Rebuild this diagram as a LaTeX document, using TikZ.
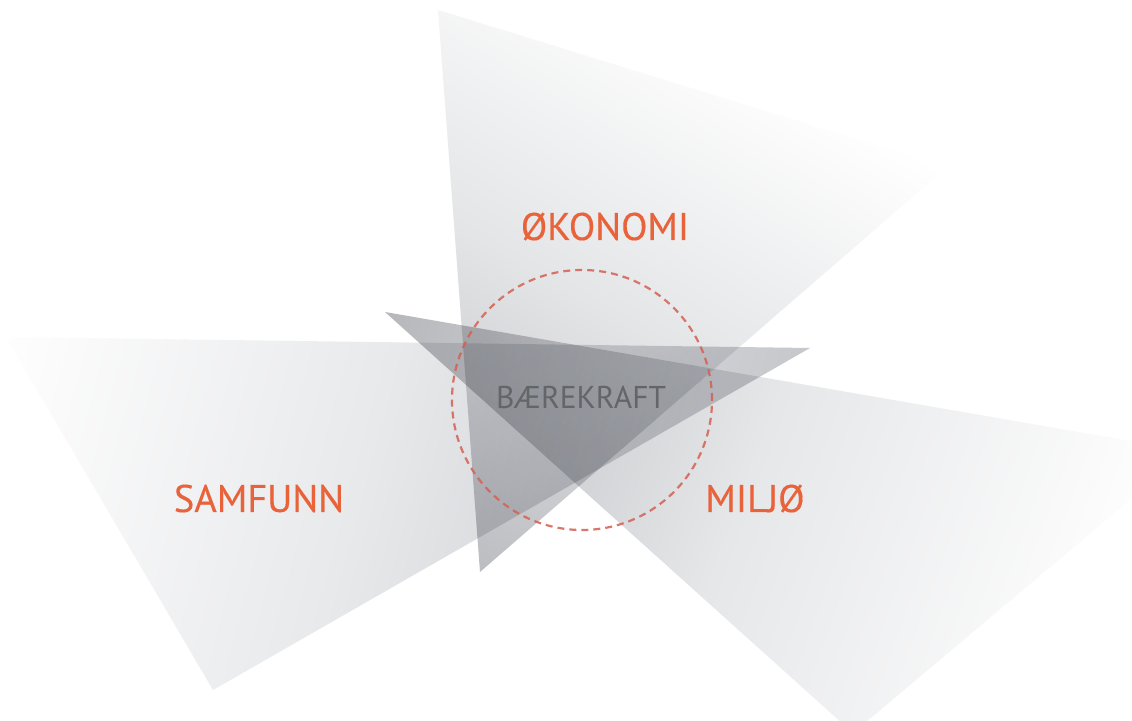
\documentclass[tikz,border=0pt]{standalone}
\usepackage{fontspec}
\setmainfont{PT Sans}
\newfontfamily\pillarfont{PT Sans}[FakeBold=0.3]
\usetikzlibrary{calc}

\definecolor{labelorange}{RGB}{232,98,58}
\definecolor{coregray}{RGB}{100,101,105}
\definecolor{ringred}{RGB}{212,96,84}
% blade shades: apex tone and mid tone of each fan blade
\definecolor{topApex}{RGB}{188,189,193}
\definecolor{topMid}{RGB}{228,229,231}
\definecolor{leftApex}{RGB}{198,199,203}
\definecolor{leftMid}{RGB}{232,233,235}
\definecolor{rightApex}{RGB}{182,183,187}
\definecolor{rightMid}{RGB}{230,231,233}

\tikzset{
  pillar/.style={font=\pillarfont\fontsize{38.5}{40}\selectfont, text=labelorange, inner sep=0pt, anchor=base},
  coretext/.style={font=\fontsize{31.5}{34}\selectfont, text=coregray, inner sep=0pt, anchor=base},
  ring/.style={circle, draw=ringred, draw opacity=0.85, line width=2.2pt,
    dash pattern=on 7pt off 5pt, minimum size=260pt, inner sep=0pt},
  bladeshade/.style={blend mode=multiply},
}

\begin{document}
\begin{tikzpicture}[x=1pt,y=1pt]
\useasboundingbox (0,0) rectangle (1132,720);
\clip (0,0) rectangle (1132,720);
\fill[white] (0,0) rectangle (1132,720);

% corners of the three blades (apex first)
\coordinate (Ta) at (480,148);
\coordinate (Tb) at (438,710);
\coordinate (Tc) at (947,553);
\coordinate (La) at (810,372);
\coordinate (Lb) at (6,383);
\coordinate (Lc) at (213,30);
\coordinate (Ra) at (385,408);
\coordinate (Rb) at (1188,269);
\coordinate (Rc) at (853,-13);

% upper blade
\begin{scope}
  \clip (Ta) -- (Tb) -- (Tc) -- cycle;
  \begin{scope}[transform canvas={rotate around={60:(Ta)}}]
    \shade[bladeshade, left color=topApex, right color=white, middle color=topMid]
      ($(Ta)+(0,-900)$) rectangle ($(Ta)+(580,900)$);
  \end{scope}
\end{scope}

% left blade
\begin{scope}
  \clip (La) -- (Lb) -- (Lc) -- cycle;
  \begin{scope}[transform canvas={rotate around={165:(La)}}]
    \shade[bladeshade, left color=leftApex, right color=white, middle color=leftMid]
      ($(La)+(0,-900)$) rectangle ($(La)+(800,900)$);
  \end{scope}
\end{scope}

% right blade
\begin{scope}
  \clip (Ra) -- (Rb) -- (Rc) -- cycle;
  \begin{scope}[transform canvas={rotate around={-20:(Ra)}}]
    \shade[bladeshade, left color=rightApex, right color=white, middle color=rightMid]
      ($(Ra)+(0,-900)$) rectangle ($(Ra)+(800,900)$);
  \end{scope}
\end{scope}

% dashed core ring and labels
\node[ring] (core) at (582,320) {};
\node[coretext] (bk) at (581,311) {BÆREKRAFT};
\node[pillar] (oko) at (605,480) {ØKONOMI};
\node[pillar] (sam) at (259,208) {SAMFUNN};
\node[pillar] (mil) at (755,208) {MILJØ};
\end{tikzpicture}
\end{document}
